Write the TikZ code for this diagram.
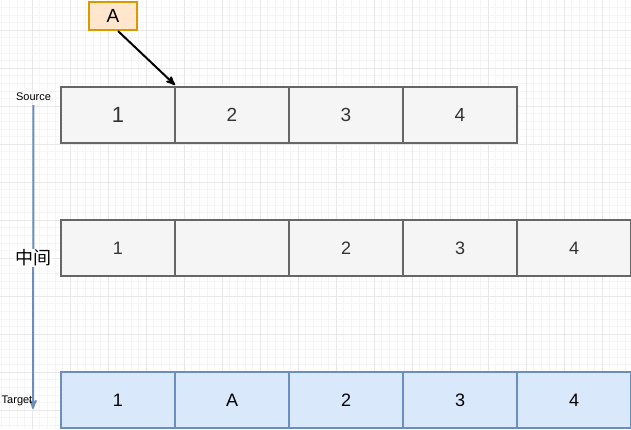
\documentclass[tikz,border=0pt]{standalone}
\usepackage{fontspec}
\setmainfont{Liberation Sans}
\newfontfamily\cjk{Noto Sans CJK SC}
\usetikzlibrary{arrows,shapes}
\definecolor{cellfill}{HTML}{F5F5F5}
\definecolor{cellline}{HTML}{666666}
\definecolor{celltext}{HTML}{333333}
\definecolor{bluefill}{HTML}{DAE8FC}
\definecolor{blueline}{HTML}{6C8EBF}
\definecolor{orangefill}{HTML}{FFE6CC}
\definecolor{orangeline}{HTML}{D79B00}
\tikzstyle{cell}=[rectangle,draw=cellline,fill=cellfill,text=celltext,line width=2pt,minimum width=114pt,minimum height=56pt,inner sep=0pt,font=\fontsize{18}{18}\selectfont]
\tikzstyle{bluecell}=[cell,draw=blueline,fill=bluefill,text=black]
\tikzstyle{tag}=[rectangle,draw=orangeline,fill=orangefill,line width=2pt,minimum width=48pt,minimum height=28pt,inner sep=0pt,font=\fontsize{19}{19}\selectfont]
\tikzstyle{edge} = [draw,line width=2pt,->]
\tikzstyle{smalllabel}=[inner sep=1pt,font=\fontsize{11}{11}\selectfont]

\begin{document}
\begin{tikzpicture}[x=1pt,y=-1pt,>=stealth']
    \useasboundingbox (0,0) rectangle (631,429);

    % background grid
    \foreach \i in {0,...,84}
        \draw[black!4, line width=0.6pt] (-6+7.6*\i, 0) -- (-6+7.6*\i, 429);
    \foreach \i in {0,...,58}
        \draw[black!4, line width=0.6pt] (0, -8+7.6*\i) -- (631, -8+7.6*\i);
    \foreach \i in {0,...,17}
        \draw[black!9, line width=0.8pt] (-6+38*\i, 0) -- (-6+38*\i, 429);
    \foreach \i in {0,...,12}
        \draw[black!9, line width=0.8pt] (0, -8+38*\i) -- (631, -8+38*\i);

    \def\y{115};
    \node[cell, font=\fontsize{22}{22}\selectfont] (s1) at (118,\y) {1};
    \foreach \pos/\name/\lbl in {{(232,\y)/s2/2}, {(346,\y)/s3/3}, {(460,\y)/s4/4}}
        \node[cell, font=\fontsize{19}{19}\selectfont] (\name) at \pos {\lbl};

    \def\y{248};
    \foreach \pos/\name/\lbl in {{(118,\y)/m1/1}, {(232,\y)/m2/}, {(346,\y)/m3/2}, {(460,\y)/m4/3}, {(574,\y)/m5/4}}
        \node[cell] (\name) at \pos {\lbl};

    \def\y{400};
    \foreach \pos/\name/\lbl in {{(118,\y)/t1/1}, {(232,\y)/t2/A}, {(346,\y)/t3/2}, {(460,\y)/t4/3}, {(574,\y)/t5/4}}
        \node[bluecell] (\name) at \pos {\lbl};

    \node[tag] (A) at (113,16) {A};
    \path[edge] ([xshift=5pt]A.south) -- ([shift={(-1pt,1pt)}]s1.north east);

    \node[smalllabel] (source) at (33.5,97) {Source};
    \coordinate (tend) at (33,409);
    \path[draw, blueline, line width=2pt, ->] ([yshift=-3pt]source.south) -- (tend);
    \node[smalllabel] (target) at (17,401) {Target};
    \node[fill=white, inner sep=1pt, font=\cjk\fontsize{18}{18}\selectfont] (mid) at (33,258) {中间};

\end{tikzpicture}
\end{document}
